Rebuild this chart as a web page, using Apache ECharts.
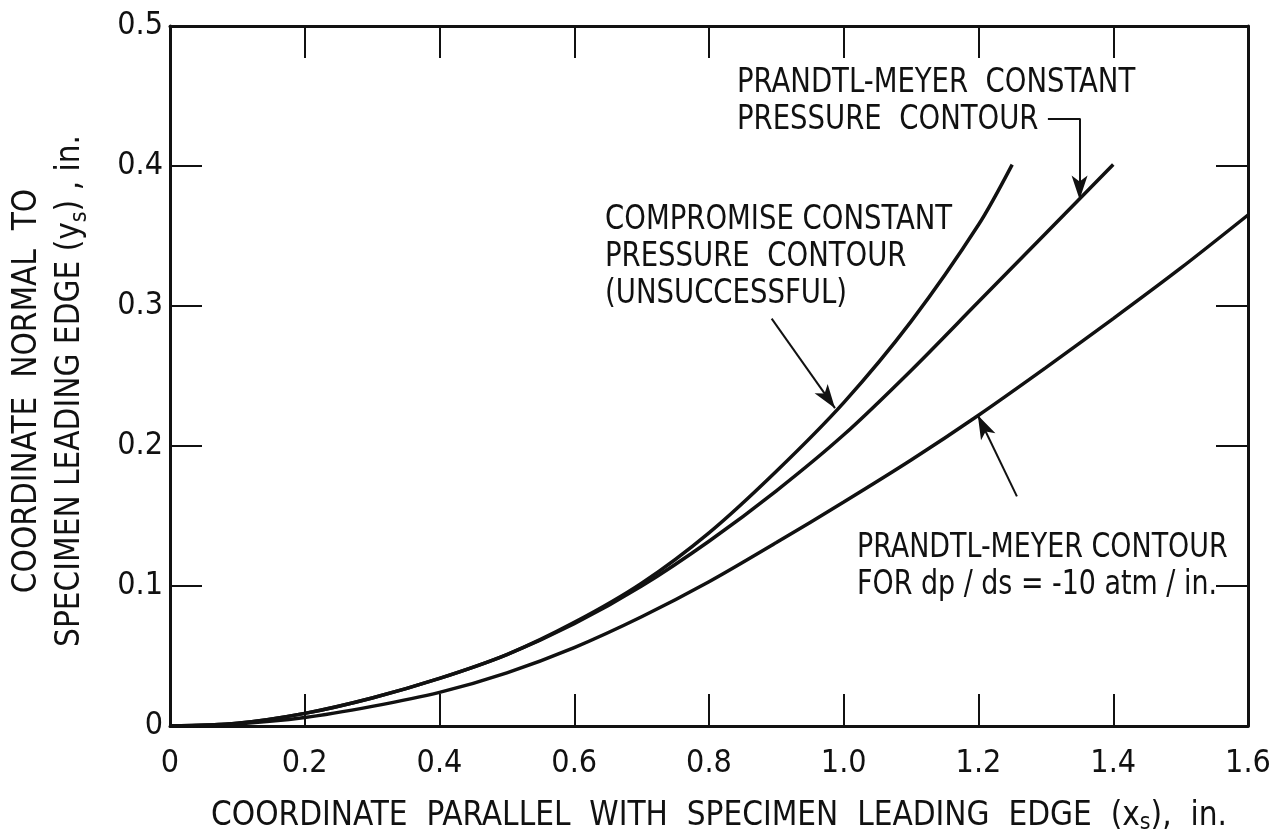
<!DOCTYPE html>
<html>
<head>
<meta charset="utf-8">
<script src="https://cdn.jsdelivr.net/npm/echarts@6/dist/echarts.min.js"></script>
<style>
  html, body { margin: 0; padding: 0; background: #fff; }
  #chart { width: 1271px; height: 833px; }
</style>
</head>
<body>
<div id="chart"></div>
<script>
// values (x in inches, y in inches)
const xTicks = [0, 0.2, 0.4, 0.6, 0.8, 1.0, 1.2, 1.4, 1.6];
const xTickLabels = ["0", "0.2", "0.4", "0.6", "0.8", "1.0", "1.2", "1.4", "1.6"];
const yTickLabels = ["0", "0.1", "0.2", "0.3", "0.4", "0.5"];

// compromise constant pressure contour (unsuccessful)
const compromiseX = [0, 0.1, 0.2, 0.3, 0.4, 0.5, 0.6, 0.7, 0.8, 0.9, 1.0, 1.1, 1.2, 1.25];
const compromiseY = [0, 0.002, 0.009, 0.020, 0.034, 0.051, 0.074, 0.102, 0.138, 0.182, 0.231, 0.289, 0.358, 0.401];

// prandtl-meyer constant pressure contour
const pmConstX = [0, 0.1, 0.2, 0.3, 0.4, 0.5, 0.6, 0.7, 0.8, 0.9, 1.0, 1.1, 1.2, 1.3, 1.4];
const pmConstY = [0, 0.002, 0.009, 0.020, 0.034, 0.051, 0.073, 0.100, 0.132, 0.168, 0.208, 0.254, 0.303, 0.352, 0.401];

// prandtl-meyer contour for dp/ds = -10 atm/in.
const pmGradX = [0, 0.1, 0.2, 0.3, 0.4, 0.5, 0.6, 0.7, 0.8, 0.9, 1.0, 1.1, 1.2, 1.3, 1.4, 1.5, 1.6];
const pmGradY = [0, 0.0015, 0.006, 0.014, 0.024, 0.038, 0.056, 0.078, 0.103, 0.131, 0.160, 0.190, 0.222, 0.256, 0.291, 0.327, 0.365];

const zip = (xs, ys) => xs.map((x, i) => [x, ys[i]]);

const FONT = '"Liberation Sans Narrow", "DejaVu Sans Condensed", "Liberation Sans", sans-serif';
const INK = "#111";

const chart = echarts.init(document.getElementById("chart"));

const xAxisBase = {
  type: "value",
  min: 0,
  max: 1.6,
  interval: 0.2,
  axisLine: { show: true, onZero: false, lineStyle: { color: INK, width: 3 } },
  axisTick: { show: true, inside: true, length: 32, lineStyle: { color: INK, width: 2 } },
  splitLine: { show: false }
};
const yAxisBase = {
  type: "value",
  min: 0,
  max: 0.5,
  interval: 0.1,
  axisLine: { show: true, onZero: false, lineStyle: { color: INK, width: 3 } },
  axisTick: { show: true, inside: true, length: 32, lineStyle: { color: INK, width: 2 } },
  splitLine: { show: false }
};

function arrow(from, to) {
  return [{ coord: from }, { coord: to }];
}

const lineStyle = { color: INK, width: 3.5 };

function note(left, top, text, lh, sx) {
  return {
    type: "text", left: left, top: top, scaleX: sx || 0.9, originX: 0,
    style: { text: text, font: "34px " + FONT, fill: INK, lineHeight: lh }
  };
}

chart.setOption({
  animation: false,
  backgroundColor: "#fff",
  grid: { left: 170, right: 23, top: 26, bottom: 107, containLabel: false, outerBoundsMode: "none" },
  xAxis: [
    Object.assign({}, xAxisBase, {
      position: "bottom",
      axisLabel: {
        color: INK, fontFamily: FONT, fontSize: 32, margin: 22,
        formatter: v => xTickLabels[xTicks.findIndex(t => Math.abs(t - v) < 1e-6)] || ""
      },
      name: "{t|COORDINATE  PARALLEL  WITH  SPECIMEN  LEADING  EDGE  (x}{s|s}{t|),  in.}",
      nameLocation: "middle",
      nameGap: 72,
      nameTextStyle: {
        padding: [0, 0, 0, 20],
        rich: {
          t: { fontFamily: FONT, fontSize: 33, color: INK },
          s: { fontFamily: FONT, fontSize: 23, color: INK, verticalAlign: "bottom", padding: [14, 0, 0, 0] }
        }
      }
    }),
    Object.assign({}, xAxisBase, { position: "top", axisLabel: { show: false } })
  ],
  yAxis: [
    Object.assign({}, yAxisBase, {
      position: "left",
      axisLabel: {
        color: INK, fontFamily: FONT, fontSize: 32, margin: 7,
        formatter: v => yTickLabels[Math.round(v * 10)]
      },
      name: "{t|COORDINATE  NORMAL  TO}\n{t|SPECIMEN LEADING EDGE (y}{s|s}{t|) , in.}",
      nameLocation: "middle",
      nameGap: 78,
      nameTextStyle: {
        lineHeight: 43,
        padding: [0, 30, 0, 0],
        rich: {
          t: { fontFamily: FONT, fontSize: 33, color: INK, lineHeight: 43 },
          s: { fontFamily: FONT, fontSize: 23, color: INK, lineHeight: 43, verticalAlign: "bottom", padding: [12, 0, 0, 0] }
        }
      }
    }),
    Object.assign({}, yAxisBase, { position: "right", axisLabel: { show: false } })
  ],
  series: [
    {
      name: "Compromise constant pressure contour",
      type: "line",
      data: zip(compromiseX, compromiseY),
      smooth: 0.3,
      showSymbol: false,
      lineStyle: lineStyle,
      markLine: {
        silent: true,
        symbol: ["none", "arrow"],
        symbolSize: [12, 24],
        label: { show: false },
        lineStyle: { color: INK, width: 2, type: "solid" },
        data: [
          arrow([0.893, 0.291], [0.987, 0.227]),
          arrow([1.257, 0.164], [1.199, 0.222]),
          arrow([1.350, 0.434], [1.350, 0.376])
        ]
      }
    },
    {
      name: "Prandtl-Meyer constant pressure contour",
      type: "line",
      data: zip(pmConstX, pmConstY),
      smooth: 0.3,
      showSymbol: false,
      lineStyle: lineStyle,
      markLine: {
        silent: true,
        symbol: ["none", "none"],
        label: { show: false },
        lineStyle: { color: INK, width: 2, type: "solid" },
        data: [arrow([1.303, 0.434], [1.351, 0.434])]
      }
    },
    {
      name: "Prandtl-Meyer contour for dp/ds = -10 atm/in.",
      type: "line",
      data: zip(pmGradX, pmGradY),
      smooth: 0.3,
      showSymbol: false,
      lineStyle: lineStyle
    }
  ],
  graphic: [
    note(737, 65, "PRANDTL-MEYER  CONSTANT\nPRESSURE  CONTOUR", 37),
    note(605, 202, "COMPROMISE CONSTANT\nPRESSURE  CONTOUR\n(UNSUCCESSFUL)", 37),
    note(857, 530, "PRANDTL-MEYER CONTOUR\nFOR dp / ds = -10 atm / in.", 37, 0.88)
  ]
});
</script>
</body>
</html>
